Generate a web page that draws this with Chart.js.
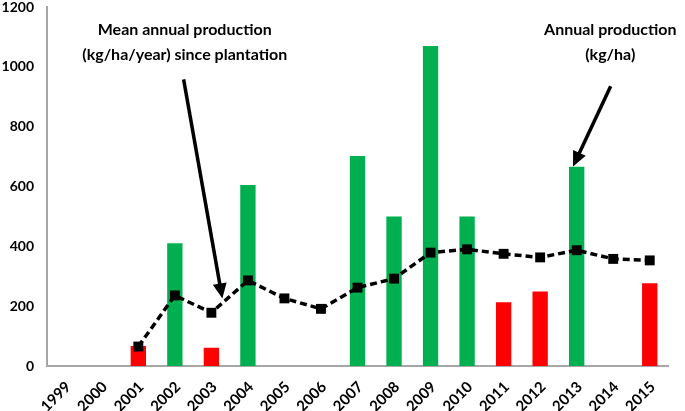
<!DOCTYPE html>
<html>
<head>
<meta charset="utf-8">
<script src="https://cdn.jsdelivr.net/npm/chart.js@4"></script>
<style>
  html, body { margin: 0; padding: 0; background: #fff; }
  #wrap { width: 685px; height: 411px; position: relative; }
</style>
</head>
<body>
<div id="wrap"><canvas id="c"></canvas></div>
<script>
// ---- data ----
const years = ['1999','2000','2001','2002','2003','2004','2005','2006','2007','2008','2009','2010','2011','2012','2013','2014','2015'];
// annual production (kg/ha), green years
const annualGreen = [null, null, null, 410, null, 605, null, null, 702, 500, 1070, 500, null, null, 666, null, null];
// annual production (kg/ha), red years
const annualRed   = [null, null, 67, null, 61, null, null, null, null, null, null, null, 213, 249, null, null, 277];
// mean annual production since plantation (kg/ha/year)
const meanSincePlantation = [null, null, 65, 236, 178, 286, 226, 191, 262, 292, 379, 390, 375, 363, 387, 358, 353];
const yTicks = [0, 200, 400, 600, 800, 1000, 1200];

// annotation texts, anchored in data space (category index, value)
const notes = [
  { lines: ['Mean annual production', '(kg/ha/year) since plantation'], x: 3.27, y: 1122, tail: [3.24, 958], tip: [4.3, 226] },
  { lines: ['Annual production', '(kg/ha)'], x: 14.92, y: 1122, tail: [14.93, 935], tip: [13.9, 667] }
];

const FONT = 'Lato, "Open Sans", sans-serif';

const annotPlugin = {
  id: 'annot',
  afterDraw(chart) {
    const ctx = chart.ctx, xs = chart.scales.x, ys = chart.scales.y;
    ctx.save();
    notes.forEach(n => {
      ctx.font = 'bold 16px ' + FONT;
      ctx.fillStyle = '#000';
      ctx.textAlign = 'center';
      ctx.textBaseline = 'middle';
      const cx = xs.getPixelForValue(n.x);
      const cy = ys.getPixelForValue(n.y);
      n.lines.forEach((l, i) => ctx.fillText(l, cx, cy + i * 25));
      // arrow
      const x1 = xs.getPixelForValue(n.tail[0]), y1 = ys.getPixelForValue(n.tail[1]);
      const x2 = xs.getPixelForValue(n.tip[0]), y2 = ys.getPixelForValue(n.tip[1]);
      const ang = Math.atan2(y2 - y1, x2 - x1);
      const headLen = 15, headW = 7;
      const bx = x2 - headLen * Math.cos(ang), by = y2 - headLen * Math.sin(ang);
      ctx.strokeStyle = '#000';
      ctx.lineWidth = 3.5;
      ctx.lineCap = 'butt';
      ctx.beginPath();
      ctx.moveTo(x1, y1);
      ctx.lineTo(bx + 2 * Math.cos(ang), by + 2 * Math.sin(ang));
      ctx.stroke();
      ctx.beginPath();
      ctx.moveTo(x2, y2);
      ctx.lineTo(bx + headW * Math.sin(ang), by - headW * Math.cos(ang));
      ctx.lineTo(bx - headW * Math.sin(ang), by + headW * Math.cos(ang));
      ctx.closePath();
      ctx.fillStyle = '#000';
      ctx.fill();
    });
    ctx.restore();
  }
};

new Chart(document.getElementById('c'), {
  data: {
    labels: years,
    datasets: [
      {
        type: 'line',
        label: 'Mean annual production (kg/ha/year) since plantation',
        data: meanSincePlantation,
        borderColor: '#000',
        borderWidth: 3.5,
        borderDash: [7, 4],
        pointStyle: 'rect',
        pointRadius: 7,
        pointBackgroundColor: '#000',
        pointBorderColor: '#000',
        pointBorderWidth: 0,
        tension: 0,
        order: 0
      },
      {
        type: 'bar',
        label: 'Annual production (kg/ha)',
        data: annualGreen,
        backgroundColor: '#00B050',
        grouped: false,
        categoryPercentage: 1,
        barPercentage: 0.42,
        order: 1
      },
      {
        type: 'bar',
        label: 'Annual production (kg/ha) low',
        data: annualRed,
        backgroundColor: '#FF0000',
        grouped: false,
        categoryPercentage: 1,
        barPercentage: 0.42,
        order: 1
      }
    ]
  },
  options: {
    responsive: true,
    maintainAspectRatio: false,
    animation: false,
    events: [],
    layout: { padding: { left: 0, right: 17, top: 4, bottom: 0 } },
    plugins: { legend: { display: false }, tooltip: { enabled: false } },
    scales: {
      x: {
        offset: true,
        grid: { display: false, drawTicks: false },
        border: { color: '#A6A6A6', width: 2 },
        ticks: {
          color: '#000',
          font: { family: FONT, weight: 'bold', size: 15 },
          maxRotation: 45, minRotation: 45,
          padding: 12,
          labelOffset: 3,
          autoSkip: false
        },
        afterFit(s) { s.height = 45; s.paddingLeft = 0; s.paddingRight = 0; }
      },
      y: {
        min: 0, max: 1200,
        afterBuildTicks(s) { s.ticks = yTicks.map(v => ({ value: v })); },
        grid: { display: false, drawTicks: false },
        border: { color: '#A6A6A6', width: 2 },
        ticks: {
          color: '#000',
          font: { family: FONT, weight: 'bold', size: 14 },
          padding: 13,
          callback: v => String(v)
        },
        afterFit(s) { s.width = 47; s.paddingTop = 0; s.paddingBottom = 0; }
      }
    }
  },
  plugins: [annotPlugin]
});
</script>
</body>
</html>
